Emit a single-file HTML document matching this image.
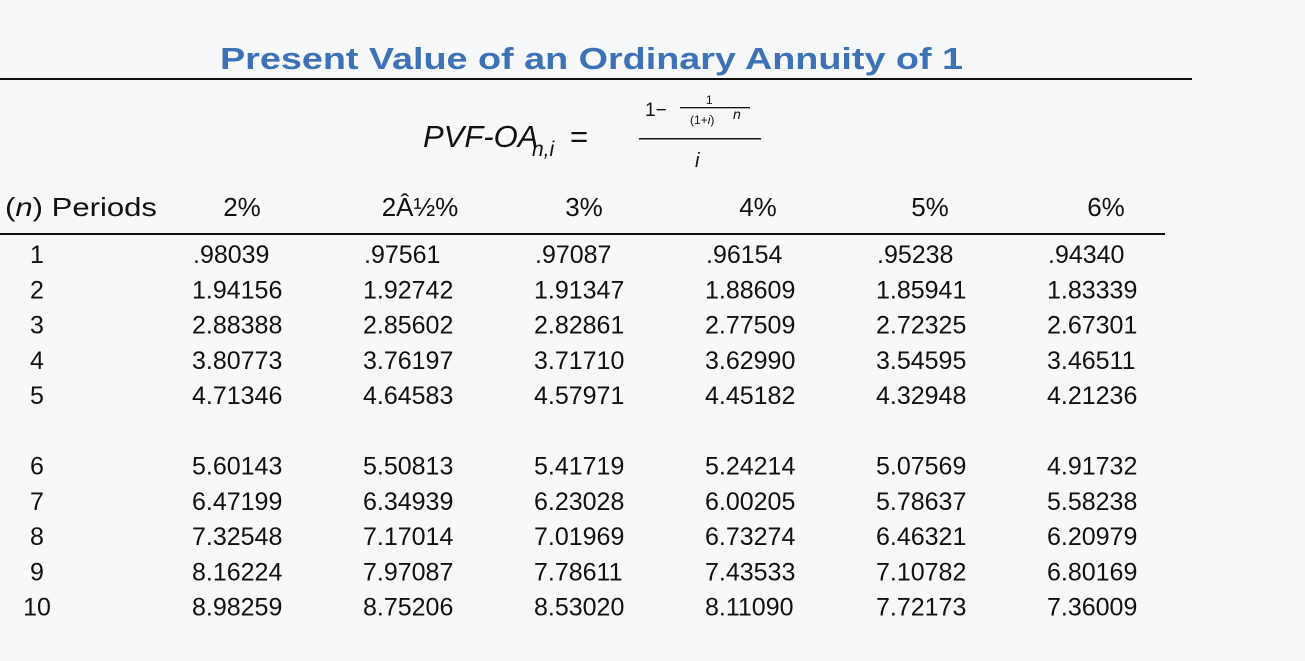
<!DOCTYPE html>
<html><head><meta charset="utf-8">
<style>
html,body{margin:0;padding:0;background:#f7f8fa;}
svg{display:block;font-family:"Liberation Sans",Arial,sans-serif;}
</style></head>
<body>
<svg width="1305" height="661" viewBox="0 0 1305 661">
<rect width="1305" height="661" fill="#f7f8fa"/>
<text x="220" y="69" font-size="31" font-weight="bold" fill="#3e72b6" textLength="743" lengthAdjust="spacingAndGlyphs">Present Value of an Ordinary Annuity of 1</text>
<rect x="0" y="78" width="1192" height="2" fill="#111"/>
<g fill="#111">
<text x="423" y="147" font-size="31" font-style="italic">PVF-OA</text>
<text x="532" y="156" font-size="21" font-style="italic">n,i</text>
<text x="570" y="147" font-size="31">=</text>
<text x="645" y="116" font-size="19">1−</text>
<rect x="680" y="107" width="70" height="1.3"/>
<text x="706" y="104" font-size="12">1</text>
<text x="690" y="124" font-size="12">(1+<tspan font-style="italic">i</tspan>)</text>
<text x="733" y="119" font-size="14" font-style="italic">n</text>
<rect x="639" y="138" width="122" height="1.5"/>
<text x="695" y="167" font-size="20" font-style="italic">i</text>
</g>
<g font-size="26" fill="#111">
<text x="5" y="216" textLength="152" lengthAdjust="spacingAndGlyphs">(<tspan font-style="italic">n</tspan>) Periods</text>
</g>
<g id="hdrs" font-size="26" fill="#111" text-anchor="middle"></g>
<rect x="0" y="233" width="1165" height="2" fill="#111"/>
<g id="body" font-size="25" fill="#111"></g>
</svg>
<script>
const rates = ["2%","2Â½%","3%","4%","5%","6%"];
const periods = [1,2,3,4,5,6,7,8,9,10];
const col2 = [".98039","1.94156","2.88388","3.80773","4.71346","5.60143","6.47199","7.32548","8.16224","8.98259"];
const col25 = [".97561","1.92742","2.85602","3.76197","4.64583","5.50813","6.34939","7.17014","7.97087","8.75206"];
const col3 = [".97087","1.91347","2.82861","3.71710","4.57971","5.41719","6.23028","7.01969","7.78611","8.53020"];
const col4 = [".96154","1.88609","2.77509","3.62990","4.45182","5.24214","6.00205","6.73274","7.43533","8.11090"];
const col5 = [".95238","1.85941","2.72325","3.54595","4.32948","5.07569","5.78637","6.46321","7.10782","7.72173"];
const col6 = [".94340","1.83339","2.67301","3.46511","4.21236","4.91732","5.58238","6.20979","6.80169","7.36009"];
const cols = [col2,col25,col3,col4,col5,col6];
const NS="http://www.w3.org/2000/svg";
const hdrX=[242,420,584,758,930,1106];
const colX=i=>192+i*171;
const rowY=r=>263+r*35.3+(r>=5?35:0);
const hg=document.getElementById('hdrs'), bg=document.getElementById('body');
rates.forEach((t,i)=>{
  const e=document.createElementNS(NS,'text');
  e.setAttribute('x',hdrX[i]);e.setAttribute('y',216);e.textContent=t;
  
  
  hg.appendChild(e);
});
periods.forEach((p,r)=>{
  const e=document.createElementNS(NS,'text');
  e.setAttribute('x',37);e.setAttribute('y',rowY(r));e.setAttribute('text-anchor','middle');e.textContent=p;
  
  
  bg.appendChild(e);
  cols.forEach((c,i)=>{
    const v=document.createElementNS(NS,'text');
    v.setAttribute('x',colX(i)+(c[r].startsWith('.')?1:0));v.setAttribute('y',rowY(r));v.textContent=c[r];
    
    
    bg.appendChild(v);
  });
});
</script>
</body></html>
